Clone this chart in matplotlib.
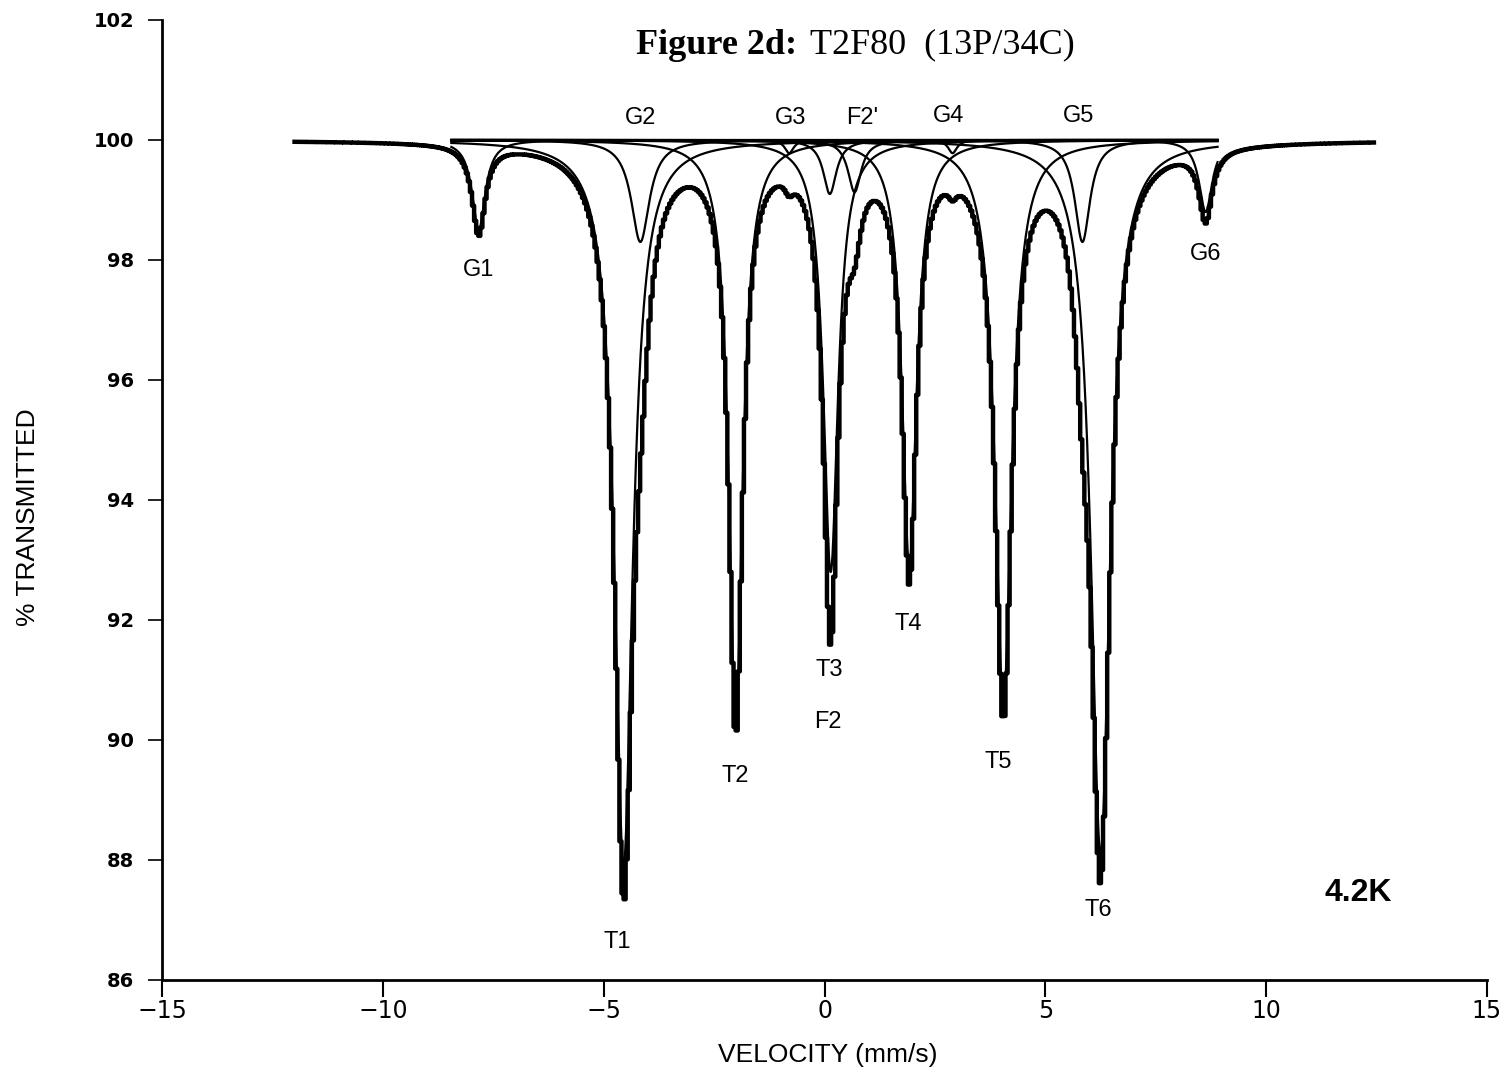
import numpy as np
import matplotlib.pyplot as plt

# fitted absorption lines: name, centre (mm/s), depth (% below baseline), half width (mm/s)
line_names = ['T1', 'T2', 'T3', 'T4', 'T5', 'T6',
              'G1', 'G2', 'G3', 'G4', 'G5', 'G6',
              'F2', "F2'"]
line_pos = [-4.55, -2.01, 0.14, 1.92, 4.05, 6.25,
            -7.83, -4.17, -0.80, 2.90, 5.84, 8.63,
            0.12, 0.68]
line_depth = [12.1, 9.7, 7.2, 7.1, 9.4, 11.9,
              1.5, 1.7, 0.22, 0.22, 1.7, 1.2,
              0.9, 0.87]
line_hwhm = [0.25, 0.19, 0.20, 0.20, 0.23, 0.26,
             0.18, 0.25, 0.12, 0.12, 0.21, 0.18,
             0.18, 0.18]
baseline = 100.0

# peak labels: text, x, y
lab_text = ['G1', 'G2', 'G3', "F2'", 'G4', 'G5', 'G6',
            'T1', 'T2', 'T3', 'F2', 'T4', 'T5', 'T6']
lab_x = [-7.83, -4.17, -0.77, 0.86, 2.81, 5.75, 8.63,
         -4.69, -2.01, 0.11, 0.07, 1.90, 3.94, 6.20]
lab_y = [97.83, 100.37, 100.37, 100.37, 100.40, 100.40, 98.10,
         86.63, 89.40, 91.17, 90.30, 91.93, 89.63, 87.17]

xticks = [-15, -10, -5, 0, 5, 10, 15]
yticks = [86, 88, 90, 92, 94, 96, 98, 100, 102]


def lorentz(x, x0, d, g):
    return d * g**2 / ((x - x0)**2 + g**2)


# channel velocities of the measured spectrum and range of the fitted curves
v_chan = np.arange(-12.0, 12.45, 0.047)
v_fit = np.linspace(-8.45, 8.9, 4000)

spectrum = baseline - sum(lorentz(v_chan, p, d, g)
                          for p, d, g in zip(line_pos, line_depth, line_hwhm))

fig = plt.figure(figsize=(15.09, 10.75), dpi=100)
ax = fig.add_axes([0.1074, 0.0884, 0.878, 0.893])

for p, d, g in zip(line_pos, line_depth, line_hwhm):
    ax.plot(v_fit, baseline - lorentz(v_fit, p, d, g), color='black', lw=1.6)
ax.plot(v_chan, spectrum, color='black', lw=3.2, drawstyle='steps-mid')

for t, x, y in zip(lab_text, lab_x, lab_y):
    ax.text(x, y, t, ha='center', va='center', fontsize=17,
            family='Liberation Sans')

# title: bold part and plain part
ax.text(-0.61, 101.58, 'Figure 2d:', ha='right', va='center', fontsize=26,
        fontweight='bold', family='Liberation Serif')
ax.text(-0.34, 101.58, 'T2F80  (13P/34C)', ha='left', va='center',
        fontsize=26, family='Liberation Serif')
ax.text(12.09, 87.45, '4.2K', ha='center', va='center', fontsize=23,
        fontweight='bold', family='Liberation Sans')

ax.set_xlim(-15, 15)
ax.set_ylim(86, 102)
ax.set_xticks(xticks)
ax.set_xticklabels([str(t).replace('-', '\u2212') for t in xticks])
ax.set_yticks(yticks)
ax.spines['top'].set_visible(False)
ax.spines['right'].set_visible(False)
ax.spines['left'].set_linewidth(2)
ax.spines['bottom'].set_linewidth(2)
ax.tick_params(axis='x', length=12, width=1.5, labelsize=17, pad=2)
ax.tick_params(axis='y', length=10, width=1.2, labelsize=14, pad=10)
for lb in ax.get_yticklabels():
    lb.set_fontweight('bold')

fig.text(828 / 1509, 1 - 1055 / 1075, 'VELOCITY (mm/s)', ha='center',
         va='center', fontsize=19, family='Liberation Sans')
fig.text(28 / 1509, 1 - 517 / 1075, '% TRANSMITTED', ha='center',
         va='center', rotation=90, fontsize=19, family='Liberation Sans')

fig.savefig('out.png', dpi=100)
